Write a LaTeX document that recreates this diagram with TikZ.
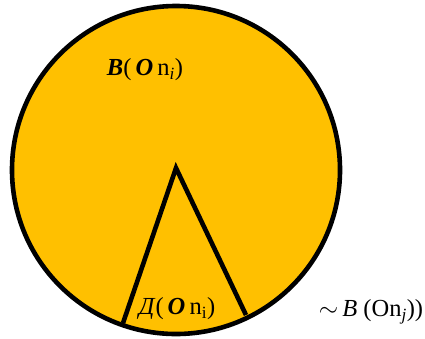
\documentclass[tikz,border=0pt]{standalone}
\usepackage{fontspec}
\setmainfont{Liberation Serif}
\definecolor{gold}{HTML}{FFC000}
\tikzset{
  outline/.style={line width=4.6pt, draw=black},
  lbl/.style={font=\fontsize{24.5}{27}\selectfont, inner sep=0pt, anchor=center}
}
\begin{document}
\begin{tikzpicture}[x=1pt,y=-1pt]
\useasboundingbox (0,0) rectangle (425,338);
\coordinate (c) at (176,170);
\coordinate (apex) at (176,168);
\coordinate (wl) at (123,323);
\coordinate (wr) at (246,315);
\fill[gold] (c) circle (164);
\draw[outline] (c) circle (164);
\draw[outline, line join=miter] (wl) -- (apex) -- (wr);
\node[lbl] (top) at (145,70) {\textbf{\textit{B}}(\,\textbf{\textit{O}}\,n\textsubscript{\textit{i}})};
\node[lbl] (bot) at (177,309) {\textit{Д}(\,\textbf{\textit{O}}\,n\textsubscript{i})};
\node[lbl] (out) at (371,312) {$\sim$\,\textit{B} (On\textsubscript{\textit{j}}))};
\end{tikzpicture}
\end{document}
